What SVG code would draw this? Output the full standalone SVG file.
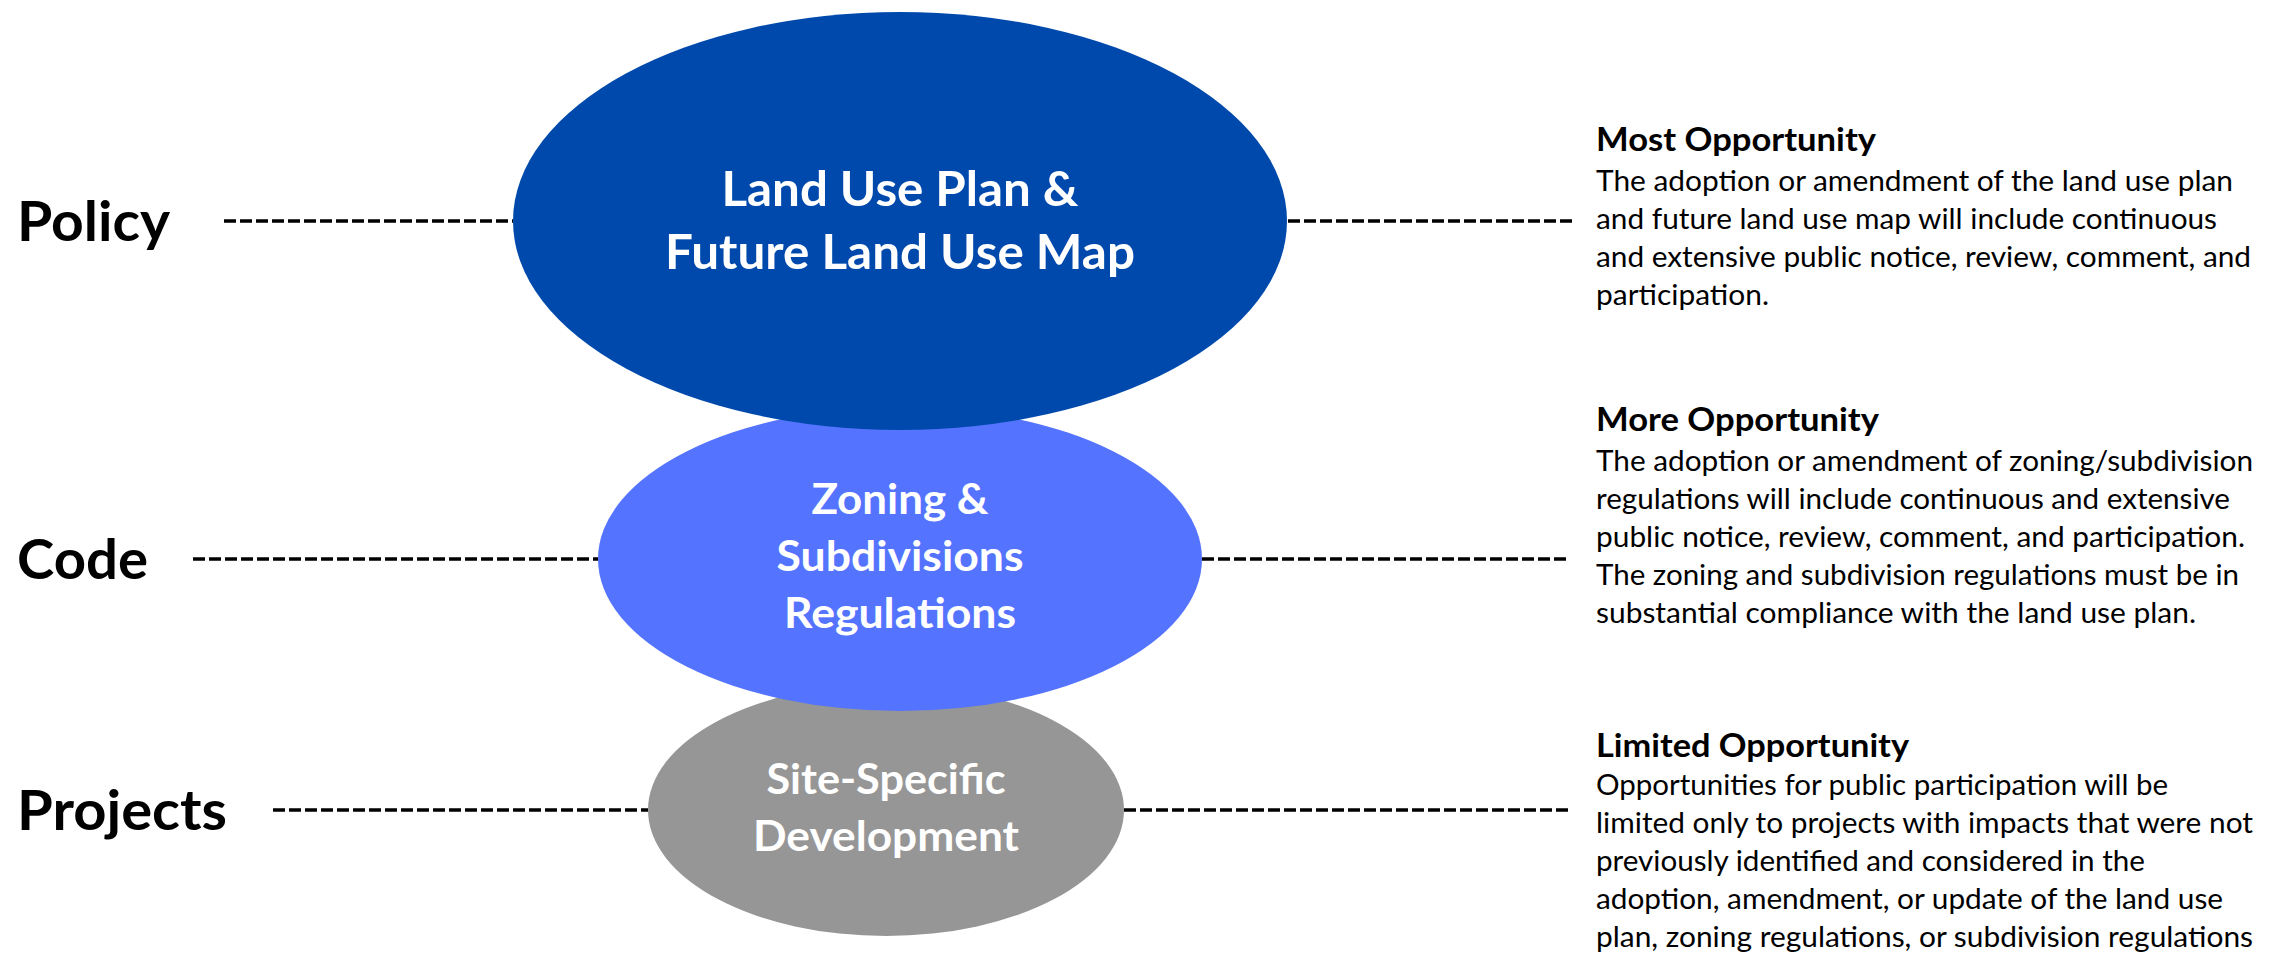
<svg xmlns="http://www.w3.org/2000/svg" width="2280" height="956" viewBox="0 0 2280 956">
<style>
.lbl{font-family:Lato,"Open Sans","Liberation Sans",sans-serif;font-weight:bold;font-size:56px;fill:#000}
.node-t{font-family:Lato,"Open Sans","Liberation Sans",sans-serif;font-weight:bold;fill:#fff;text-anchor:middle}
.big{font-size:47px}
.mid{font-size:42.5px}
.hd{font-family:Lato,"Open Sans","Liberation Sans",sans-serif;font-weight:bold;font-size:32.5px;fill:#000}
.bd{font-family:Lato,"Open Sans","Liberation Sans",sans-serif;font-size:29px;fill:#000}
.dash{stroke:#000;stroke-width:3.5;stroke-dasharray:12 4;fill:none}
</style>
<rect width="2280" height="956" fill="#fff"/>
<g id="connectors">
<line class="dash" x1="224" y1="221" x2="513" y2="221"/>
<line class="dash" x1="1288" y1="221" x2="1576" y2="221"/>
<line class="dash" x1="193" y1="559" x2="598" y2="559"/>
<line class="dash" x1="1202" y1="559" x2="1570" y2="559"/>
<line class="dash" x1="273" y1="810" x2="648" y2="810"/>
<line class="dash" x1="1124" y1="810" x2="1572" y2="810"/>
</g>
<g id="label-policy"><text class="lbl" x="17" y="241" textLength="153" lengthAdjust="spacingAndGlyphs">Policy</text></g>
<g id="label-code"><text class="lbl" x="17" y="579" textLength="131" lengthAdjust="spacingAndGlyphs">Code</text></g>
<g id="label-projects"><text class="lbl" x="17" y="830" textLength="210" lengthAdjust="spacingAndGlyphs">Projects</text></g>
<g id="node-site">
<ellipse cx="886" cy="810" rx="238" ry="126" fill="#969696"/>
<text class="node-t mid" x="886" y="794" textLength="239" lengthAdjust="spacingAndGlyphs">Site-Specific</text>
<text class="node-t mid" x="886" y="851" textLength="266" lengthAdjust="spacingAndGlyphs">Development</text>
</g>
<g id="node-zoning">
<ellipse cx="900" cy="559" rx="302" ry="152" fill="#5473FF"/>
<text class="node-t mid" x="900" y="514" textLength="177" lengthAdjust="spacingAndGlyphs">Zoning &amp;</text>
<text class="node-t mid" x="900" y="571" textLength="247" lengthAdjust="spacingAndGlyphs">Subdivisions</text>
<text class="node-t mid" x="900" y="628" textLength="232" lengthAdjust="spacingAndGlyphs">Regulations</text>
</g>
<g id="node-landuse">
<ellipse cx="900" cy="221" rx="387" ry="209" fill="#0049AC"/>
<text class="node-t big" x="900" y="206" textLength="357" lengthAdjust="spacingAndGlyphs">Land Use Plan &amp;</text>
<text class="node-t big" x="900" y="269" textLength="470" lengthAdjust="spacingAndGlyphs">Future Land Use Map</text>
</g>
<g id="desc-most">
<text class="hd" x="1596" y="151" textLength="280" lengthAdjust="spacingAndGlyphs">Most Opportunity</text>
<text class="bd" x="1596" y="191" textLength="637" lengthAdjust="spacingAndGlyphs">The adoption or amendment of the land use plan</text>
<text class="bd" x="1596" y="229" textLength="621" lengthAdjust="spacingAndGlyphs">and future land use map will include continuous</text>
<text class="bd" x="1596" y="267" textLength="655" lengthAdjust="spacingAndGlyphs">and extensive public notice, review, comment, and</text>
<text class="bd" x="1596" y="305" textLength="173" lengthAdjust="spacingAndGlyphs">participation.</text>
</g>
<g id="desc-more">
<text class="hd" x="1596" y="431" textLength="283" lengthAdjust="spacingAndGlyphs">More Opportunity</text>
<text class="bd" x="1596" y="471" textLength="657" lengthAdjust="spacingAndGlyphs">The adoption or amendment of zoning/subdivision</text>
<text class="bd" x="1596" y="509" textLength="634" lengthAdjust="spacingAndGlyphs">regulations will include continuous and extensive</text>
<text class="bd" x="1596" y="547" textLength="649" lengthAdjust="spacingAndGlyphs">public notice, review, comment, and participation.</text>
<text class="bd" x="1596" y="585" textLength="643" lengthAdjust="spacingAndGlyphs">The zoning and subdivision regulations must be in</text>
<text class="bd" x="1596" y="623" textLength="600" lengthAdjust="spacingAndGlyphs">substantial compliance with the land use plan.</text>
</g>
<g id="desc-limited">
<text class="hd" x="1596" y="757" textLength="313" lengthAdjust="spacingAndGlyphs">Limited Opportunity</text>
<text class="bd" x="1596" y="795" textLength="572" lengthAdjust="spacingAndGlyphs">Opportunities for public participation will be</text>
<text class="bd" x="1596" y="833" textLength="657" lengthAdjust="spacingAndGlyphs">limited only to projects with impacts that were not</text>
<text class="bd" x="1596" y="871" textLength="549" lengthAdjust="spacingAndGlyphs">previously identified and considered in the</text>
<text class="bd" x="1596" y="909" textLength="627" lengthAdjust="spacingAndGlyphs">adoption, amendment, or update of the land use</text>
<text class="bd" x="1596" y="947" textLength="657" lengthAdjust="spacingAndGlyphs">plan, zoning regulations, or subdivision regulations</text>
</g>
</svg>
